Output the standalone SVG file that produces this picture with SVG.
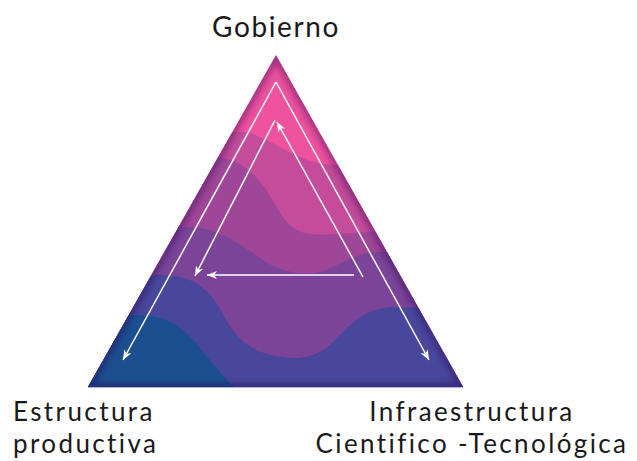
<svg xmlns="http://www.w3.org/2000/svg" width="637" height="461" viewBox="0 0 637 461">
<style>
.lbl{font-family:Lato,"Open Sans","Liberation Sans",sans-serif;font-size:26px;font-weight:400;fill:#1a1a1a;letter-spacing:2.4px;}
.arr{fill:none;stroke:#ffffff;stroke-width:1.5;}
</style>
<defs>
<clipPath id="tri"><polygon points="276,55 463,387 88,387"/></clipPath>
<filter id="blur" x="-20%" y="-20%" width="140%" height="140%"><feGaussianBlur stdDeviation="3"/></filter>
<marker id="ah" markerUnits="userSpaceOnUse" markerWidth="12" markerHeight="10" refX="10" refY="4" orient="auto">
<path d="M0,0 L10,4 L0,8 L3,4 Z" fill="#ffffff"/>
</marker>
</defs>
<g id="triangle">
<g clip-path="url(#tri)">
<rect x="80" y="50" width="400" height="350" fill="#ee519e"/>
<path d="M80,133 L230,133 C245,129 260,136 280,147 C300,158 315,165 340,165 L480,165 L480,400 L80,400 Z" fill="#c44c9a"/>
<path d="M80,157 L215,157 C235,158 250,168 265,188 C278,208 285,228 305,233 C325,237 345,232 380,232 L480,232 L480,400 L80,400 Z" fill="#a04698"/>
<path d="M80,227 L190,227 C215,228 235,240 260,258 C280,272 300,276 320,272 C340,266 355,252 380,252 L480,253 L480,400 L80,400 Z" fill="#7b4498"/>
<path d="M80,275 L163,275 C195,276 210,290 222,312 C235,338 250,355 290,358 C320,359 330,345 345,330 C360,315 375,306 400,307 L480,310 L480,400 L80,400 Z" fill="#48479b"/>
<path d="M80,316 L140,315 C165,316 180,325 195,342 C210,360 225,380 240,392 L80,392 Z" fill="#1c4f8f"/>
<polygon points="276,55 463,387 88,387" fill="none" stroke="#2a1050" stroke-opacity="0.4" stroke-width="8" filter="url(#blur)"/>
</g>
<line x1="88" y1="387.5" x2="463" y2="387.5" stroke="#a9b0dc" stroke-width="1"/>
</g>
<g id="connectors">
<line class="arr" x1="276" y1="82" x2="123" y2="360" marker-end="url(#ah)"/>
<line class="arr" x1="276" y1="82" x2="429" y2="360" marker-end="url(#ah)"/>
<line class="arr" x1="363" y1="277" x2="277" y2="122" marker-end="url(#ah)"/>
<line class="arr" x1="275" y1="120" x2="195" y2="276" marker-end="url(#ah)"/>
<line class="arr" x1="354" y1="275" x2="207" y2="275" marker-end="url(#ah)"/>
</g>
<g id="gobierno"><text class="lbl" x="276" y="37" text-anchor="middle" style="font-size:28px;letter-spacing:1.6px">Gobierno</text></g>
<g id="estructura"><text class="lbl" x="13" y="421">Estructura</text><text class="lbl" x="13" y="453">productiva</text></g>
<g id="infraestructura"><text class="lbl" x="472" y="421" text-anchor="middle">Infraestructura</text><text class="lbl" x="472" y="453" text-anchor="middle">Cientifico -Tecnológica</text></g>
</svg>
